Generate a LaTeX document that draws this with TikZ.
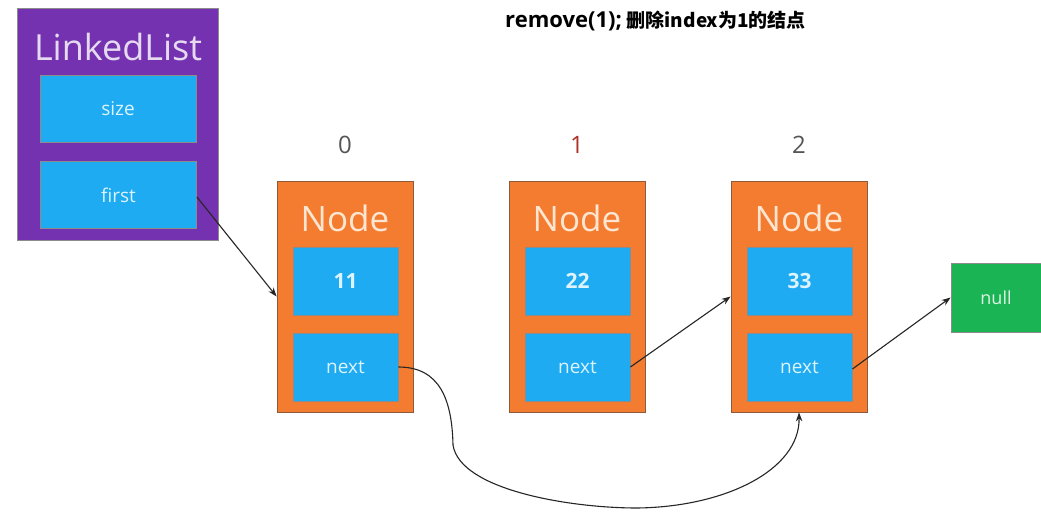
\documentclass[tikz,border=0pt]{standalone}
\usepackage{fontspec}
\setmainfont{Open Sans}
\newfontfamily\cjk{Noto Sans CJK SC}
\usetikzlibrary{arrows.meta}
\definecolor{purp}{HTML}{7431B0}
\definecolor{cyanb}{HTML}{1EABF2}
\definecolor{orng}{HTML}{F47C30}
\definecolor{grn}{HTML}{1BB455}
\definecolor{idxgray}{HTML}{555555}
\definecolor{idxred}{HTML}{B0302A}
\definecolor{cream}{HTML}{FCE6D2}
\tikzset{
  box/.style={draw=black!45, line width=0.8pt, inner sep=0pt, minimum width=#1},
  outerlist/.style={box=201pt, fill=purp, minimum height=232pt},
  outernode/.style={box=136pt, fill=orng, draw=black!40!orng!70!gray, minimum height=231pt},
  field/.style={box=105pt, fill=cyanb, minimum height=68pt, text=white!85!cyanb, font=\fontsize{19}{22}\selectfont},
  valfield/.style={field, font=\fontsize{21}{24}\selectfont\bfseries},
  lfield/.style={field, minimum width=156pt, minimum height=67pt},
  title/.style={text=cream, font=\fontsize{35}{40}\selectfont},
  idx/.style={text=idxgray, font=\fontsize{24}{28}\selectfont},
  link/.style={draw=black!85, line width=1.1pt, -{Stealth[length=9pt,width=6.5pt]}},
}
\begin{document}
\begin{tikzpicture}[x=1pt,y=-1pt]
\useasboundingbox[fill=white] (0,0) rectangle (1041,516);
% title
\node[anchor=base west, inner sep=0pt] (ttl) at (505,28) {\fontsize{22}{24}\selectfont\bfseries remove(1);\hspace{5pt}\cjk\fontsize{19}{22}\selectfont\bfseries 删除index为1的结点};
% LinkedList
\node[outerlist] (ll) at (118,124) {};
\node[text=white!82!purp, font=\fontsize{36}{40}\selectfont] (lltitle) at (118,47) {LinkedList};
\node[lfield] (size) at (118,108.5) {size};
\node[lfield] (first) at (118.5,195) {first};
% nodes
\foreach \i/\x/\v in {0/345/11,1/577/22,2/799/33}{
  \node[outernode] (n\i) at (\x,296.5) {};
  \node[title] (t\i) at (\x,218) {Node};
  \node[valfield] (v\i) at (\x+0.5,281) {\v};
  \node[field] (x\i) at (\x+0.5,367) {next};
}
\node[idx] (i0) at (345,145) {0};
\node[idx, text=idxred] (i1) at (577,145) {1};
\node[idx] (i2) at (799,145) {2};
% null
\node[box=90pt, fill=grn, minimum height=69pt, text=white!85!grn, font=\fontsize{18}{20}\selectfont] (null) at (996,297.5) {null};
% links
\draw[link] (first.east) ++(0,2) -- (n0.west);
\draw[link] (x1.east) -- (n2.west);
\draw[link] (x2.east) ++(0,2) -- (null.west);
\draw[link] (x0.east) .. controls (440,367) and (452,400) .. (453,445)
  .. controls (460,490) and (570,508) .. (637,508)
  .. controls (725,507) and (800,470) .. (n2.south);
\end{tikzpicture}
\end{document}
